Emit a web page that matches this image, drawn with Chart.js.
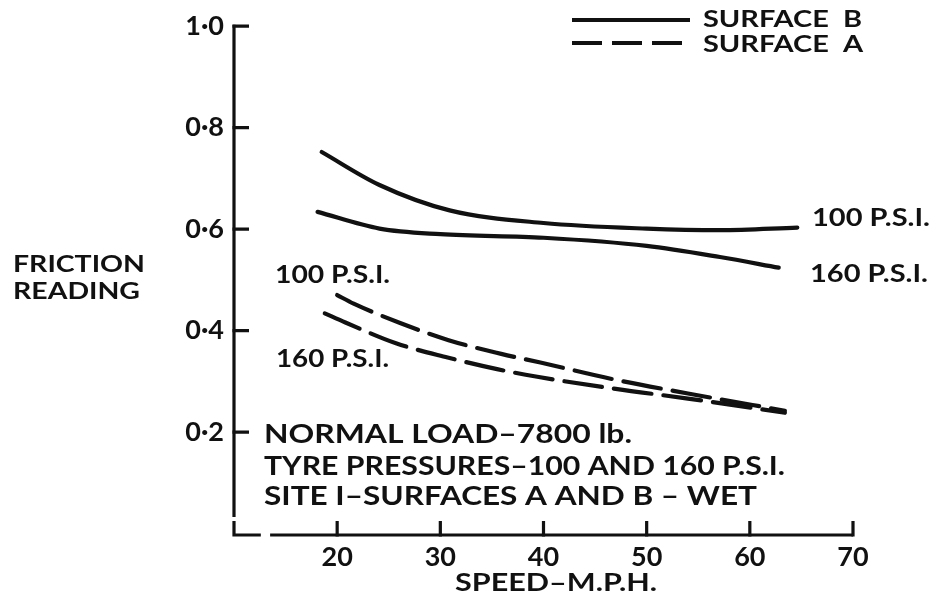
<!DOCTYPE html>
<html>
<head>
<meta charset="utf-8">
<script src="https://cdn.jsdelivr.net/npm/chart.js@4.4.1/dist/chart.umd.min.js"></script>
<style>
html,body{margin:0;padding:0;background:#fff;}
#wrap{width:933px;height:602px;}
</style>
</head>
<body>
<div id="wrap"><canvas id="c" width="933" height="602"></canvas></div>
<script>
// ---- data ----
const speedB100 = [18.5, 24.1, 30.9, 40, 50, 57.1, 64.6];
const frictionB100 = [0.752, 0.687, 0.637, 0.612, 0.601, 0.598, 0.603];

const speedB160 = [18.1, 24.1, 30, 40, 50, 57.1, 62.8];
const frictionB160 = [0.634, 0.601, 0.590, 0.583, 0.567, 0.545, 0.524];

const speedA100 = [20, 21.6, 26.1, 30.8, 35.9, 39.7, 47, 54, 63.4];
const frictionA100 = [0.470, 0.453, 0.415, 0.381, 0.354, 0.337, 0.303, 0.276, 0.242];

const speedA160 = [18.8, 20.8, 25.7, 30.7, 35.5, 39.4, 47, 54, 63.4];
const frictionA160 = [0.434, 0.416, 0.375, 0.347, 0.324, 0.309, 0.285, 0.266, 0.238];

const xTickValues = [20, 30, 40, 50, 60, 70];
const yTickValues = [0.2, 0.4, 0.6, 0.8, 1.0];
const xMin = 10, xMax = 70, yMin = 0, yMax = 1.0;

const legendLabels = ['SURFACE  B', 'SURFACE  A'];
const pressureLabels = ['100 P.S.I.', '160 P.S.I.'];
const yTitleLines = ['FRICTION', 'READING'];
const xTitle = 'SPEED–M.P.H.';
const noteLines = ['NORMAL LOAD–7800 lb.', 'TYRE PRESSURES–100 AND 160 P.S.I.', 'SITE I–SURFACES A AND B – WET'];

const INK = '#111';
const FONT = 'Lato, "Liberation Sans", sans-serif';
const DASH = [38, 12];

function pts(xs, ys) { return xs.map((x, i) => ({x: x, y: ys[i]})); }

function drawText(ctx, text, x, y, size, targetW, align) {
  ctx.save();
  ctx.font = 'bold ' + size + 'px ' + FONT;
  ctx.fillStyle = INK;
  ctx.textBaseline = 'middle';
  ctx.textAlign = 'left';
  const w = ctx.measureText(text).width;
  const sx = targetW ? targetW / w : 1;
  let x0 = x;
  if (align === 'center') x0 = x - (w * sx) / 2;
  ctx.translate(x0, y);
  ctx.scale(sx, 1);
  ctx.fillText(text, 0, 0);
  ctx.restore();
}

const decor = {
  id: 'decor',
  beforeDraw(chart) {
    const ctx = chart.ctx;
    ctx.save();
    ctx.fillStyle = '#fff';
    ctx.fillRect(0, 0, chart.width, chart.height);
    ctx.restore();
  },
  afterDraw(chart) {
    const ctx = chart.ctx;
    const xs = chart.scales.x, ys = chart.scales.y;
    const x0 = xs.getPixelForValue(xMin);
    const yTop = ys.getPixelForValue(yMax);
    const yBot = ys.getPixelForValue(yMin) + 1.5;
    ctx.save();
    ctx.strokeStyle = INK;
    ctx.lineWidth = 3.2;
    ctx.lineCap = 'butt';
    // vertical axis (broken near the bottom)
    ctx.beginPath();
    ctx.moveTo(x0, yTop - 1.5);
    ctx.lineTo(x0, yBot - 18);
    ctx.moveTo(x0, yBot - 14);
    ctx.lineTo(x0, yBot);
    ctx.lineTo(xs.getPixelForValue(12.6), yBot);
    ctx.moveTo(xs.getPixelForValue(13.5), yBot);
    ctx.lineTo(xs.getPixelForValue(xMax), yBot);
    ctx.stroke();
    // inward ticks
    ctx.beginPath();
    yTickValues.forEach(v => {
      const py = ys.getPixelForValue(v);
      ctx.moveTo(x0 - 1.5, py);
      ctx.lineTo(x0 + 15, py);
    });
    xTickValues.forEach(v => {
      const px = xs.getPixelForValue(v);
      ctx.moveTo(px, yBot + 1.5);
      ctx.lineTo(px, yBot - 14);
    });
    ctx.stroke();

    // legend
    const ds = chart.data.datasets;
    ctx.lineWidth = 4;
    ctx.setLineDash([]);
    ctx.beginPath();
    ctx.moveTo(572, 20); ctx.lineTo(690, 20);
    ctx.stroke();
    ctx.setLineDash([30, 10]);
    ctx.beginPath();
    ctx.moveTo(572, 43); ctx.lineTo(690, 43);
    ctx.stroke();
    ctx.setLineDash([]);
    ctx.restore();

    drawText(ctx, legendLabels[0], 703, 20, 22, 159);
    drawText(ctx, legendLabels[1], 703, 45, 22, 160);

    // pressure labels
    drawText(ctx, pressureLabels[0], 812, 218, 25, 118);
    drawText(ctx, pressureLabels[1], 810, 274, 25, 118);
    drawText(ctx, pressureLabels[0], 275, 275, 25, 115);
    drawText(ctx, pressureLabels[1], 276, 359, 25, 113);

    // y title
    drawText(ctx, yTitleLines[0], 13, 265, 23, 132);
    drawText(ctx, yTitleLines[1], 13, 292, 23, 127);

    // notes
    drawText(ctx, noteLines[0], 264, 435, 26, 368);
    drawText(ctx, noteLines[1], 264, 467, 26, 521);
    drawText(ctx, noteLines[2], 264, 497, 26, 493);

    // x title
    drawText(ctx, xTitle, 556, 583, 25, 202, 'center');
  }
};

const tickFont = {family: FONT, size: 27, weight: 'bold'};

new Chart(document.getElementById('c'), {
  type: 'line',
  data: {
    datasets: [
      {label: 'Surface B 100 psi', data: pts(speedB100, frictionB100), borderDash: []},
      {label: 'Surface B 160 psi', data: pts(speedB160, frictionB160), borderDash: []},
      {label: 'Surface A 100 psi', data: pts(speedA100, frictionA100), borderDash: DASH},
      {label: 'Surface A 160 psi', data: pts(speedA160, frictionA160), borderDash: DASH}
    ].map(d => Object.assign({
      borderColor: INK, borderWidth: 4.2, pointRadius: 0, fill: false,
      cubicInterpolationMode: 'monotone', borderCapStyle: 'round'
    }, d))
  },
  options: {
    responsive: false,
    animation: false,
    events: [],
    layout: {padding: {left: 0, top: 26, right: 80, bottom: 0}},
    plugins: {legend: {display: false}, tooltip: {enabled: false}, title: {display: false}},
    scales: {
      x: {
        type: 'linear', min: xMin, max: xMax,
        afterBuildTicks: s => { s.ticks = xTickValues.map(v => ({value: v})); },
        afterFit: s => { s.height = 68.5; },
        grid: {display: false, drawTicks: false},
        border: {display: false},
        ticks: {color: INK, font: tickFont, padding: 8, autoSkip: false, maxRotation: 0,
                callback: v => String(v)}
      },
      y: {
        type: 'linear', min: yMin, max: yMax,
        afterBuildTicks: s => { s.ticks = yTickValues.map(v => ({value: v})); },
        afterFit: s => { s.width = 234; },
        grid: {display: false, drawTicks: false},
        border: {display: false},
        ticks: {color: INK, font: tickFont, padding: 10, autoSkip: false,
                callback: v => Number(v).toFixed(1).replace('.', '·')}
      }
    }
  },
  plugins: [decor]
});
</script>
</body>
</html>
